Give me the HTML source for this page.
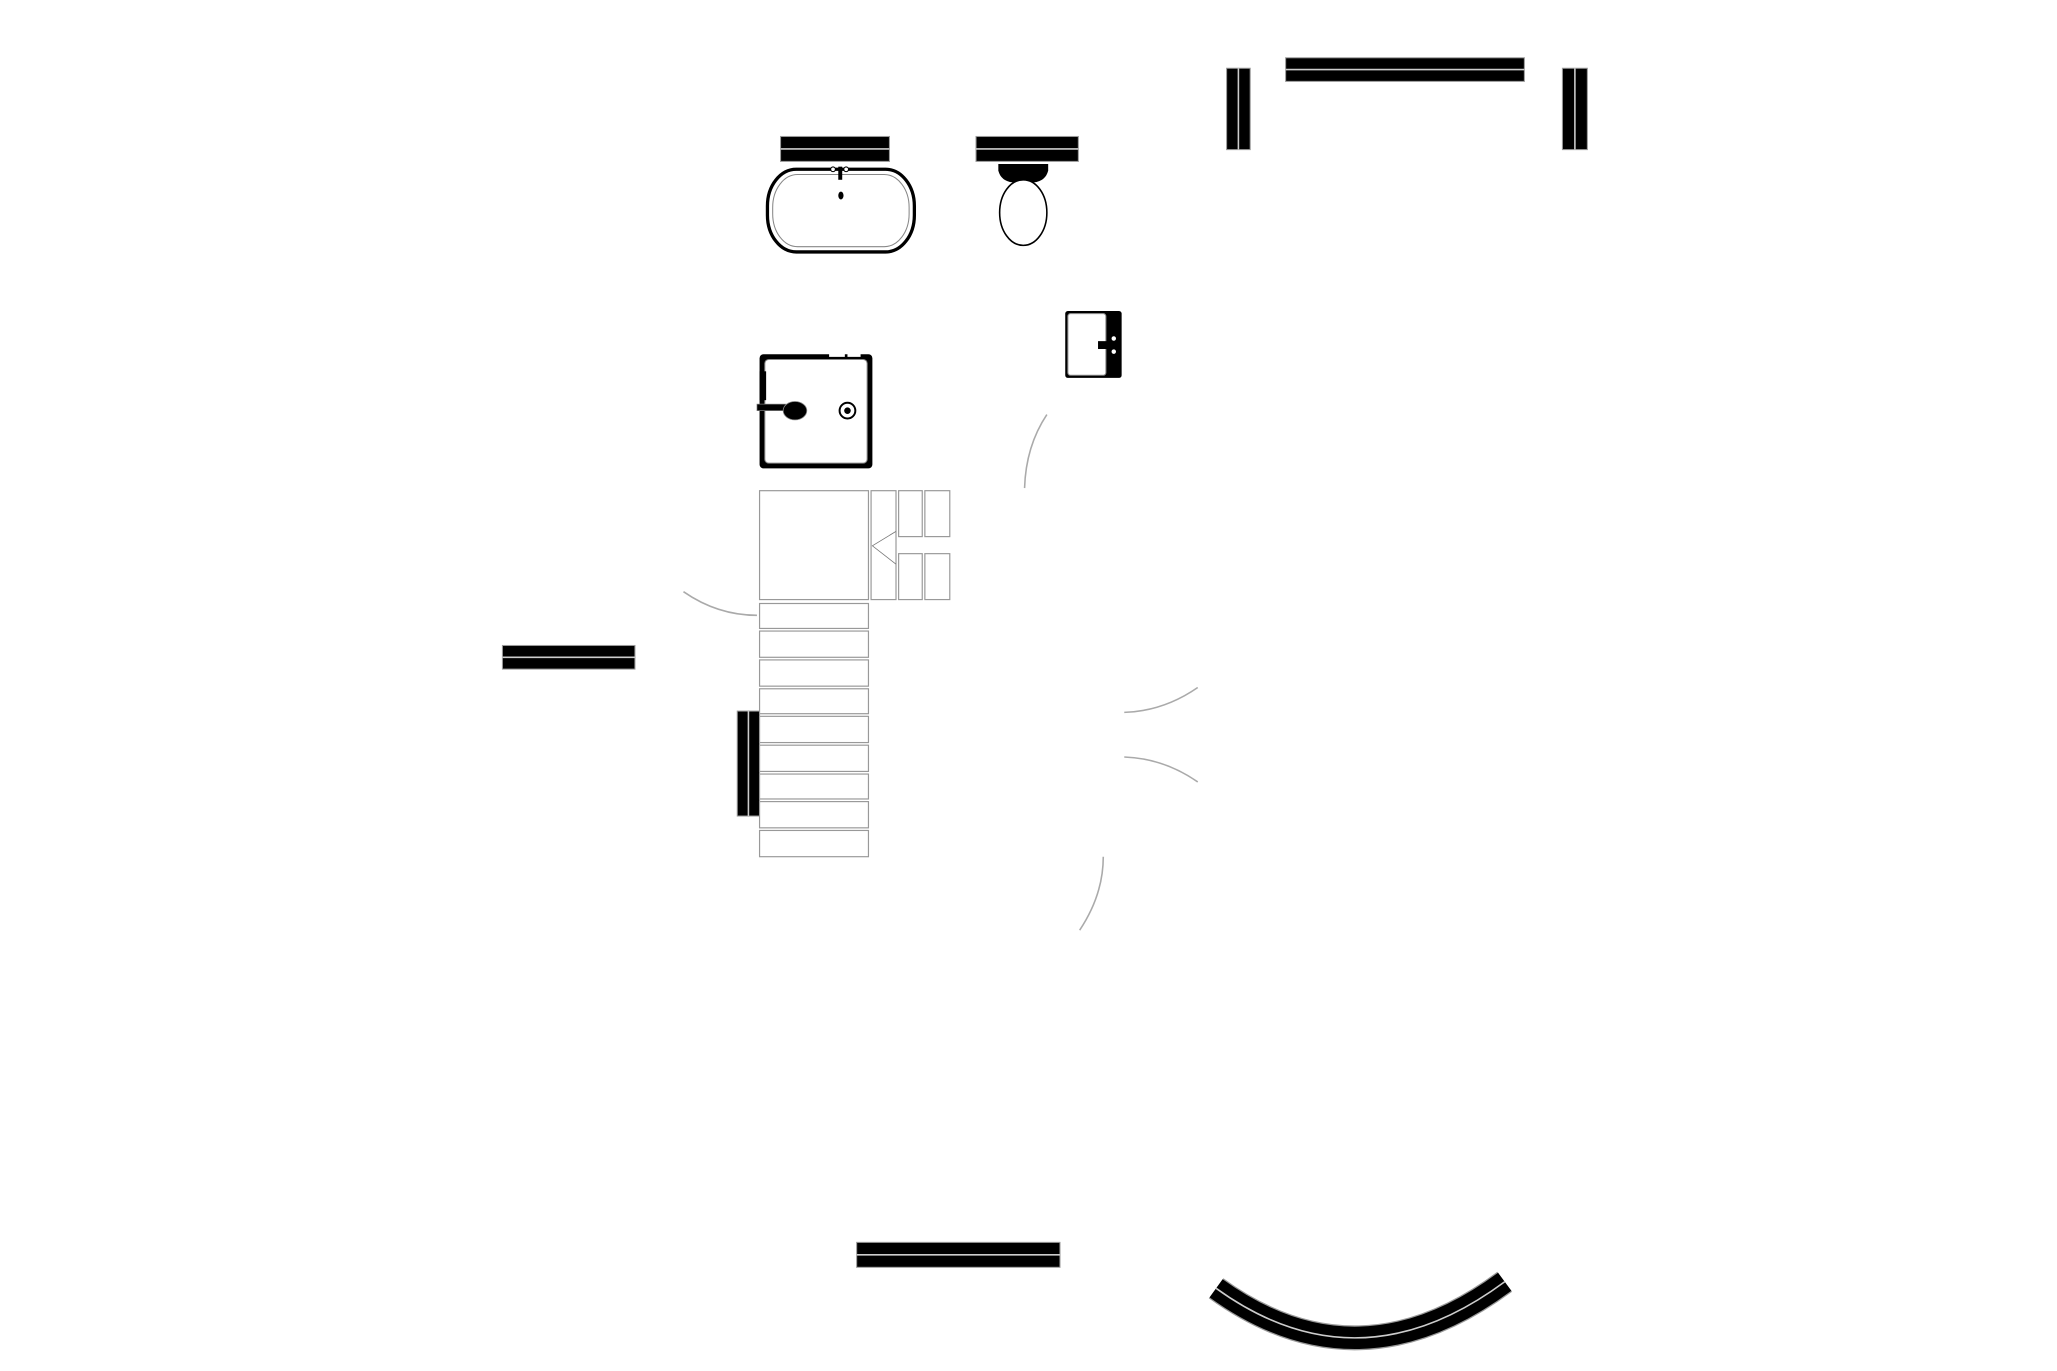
<!DOCTYPE html>
<html><head><meta charset="utf-8"><style>
html,body{margin:0;padding:0;background:#fff;}
svg{display:block;}
</style></head><body>
<svg width="2057" height="1371" viewBox="0 0 1568 1045" xmlns="http://www.w3.org/2000/svg">
<defs>
<g id="x"></g>
</defs>
<!-- walls: black with grey edge and light center line -->
<g stroke="#999" stroke-width="0.8" fill="#000">
<rect x="980" y="44" width="182" height="18"/>
<rect x="935" y="52" width="18" height="62"/>
<rect x="1191" y="52" width="19" height="62"/>
<rect x="595" y="104" width="83" height="19"/>
<rect x="744" y="104" width="78" height="19"/>
<rect x="383" y="492" width="101" height="18"/>
<rect x="562" y="542" width="17" height="80"/>
<rect x="653" y="947" width="155" height="19"/>
</g>
<g stroke="#ccc" stroke-width="1.2">
<line x1="980" y1="53" x2="1162" y2="53"/>
<line x1="944" y1="52" x2="944" y2="114"/>
<line x1="1200.5" y1="52" x2="1200.5" y2="114"/>
<line x1="595" y1="113.5" x2="678" y2="113.5"/>
<line x1="744" y1="113.5" x2="822" y2="113.5"/>
<line x1="383" y1="501" x2="484" y2="501"/>
<line x1="570.5" y1="542" x2="570.5" y2="622"/>
<line x1="653" y1="956.5" x2="808" y2="956.5"/>
</g>
<!-- curved wall -->
<path d="M927,982 Q1035,1060 1147,977" fill="none" stroke="#999" stroke-width="19"/>
<path d="M927,982 Q1035,1060 1147,977" fill="none" stroke="#000" stroke-width="17"/>
<path d="M927,982 Q1035,1060 1147,977" fill="none" stroke="#ccc" stroke-width="1.2"/>
<!-- basin -->
<rect x="585" y="129" width="112" height="63" rx="22" ry="28" fill="#fff" stroke="#000" stroke-width="2.5"/>
<rect x="589" y="133" width="104" height="55" rx="19" ry="25" fill="none" stroke="#888" stroke-width="0.8"/>
<rect x="639" y="127" width="3" height="10" fill="#000"/>
<circle cx="635" cy="129" r="1.8" fill="#fff" stroke="#000" stroke-width="0.8"/>
<circle cx="645" cy="129" r="1.8" fill="#fff" stroke="#000" stroke-width="0.8"/>
<ellipse cx="641" cy="149" rx="2" ry="3" fill="#000"/>
<!-- toilet -->
<path d="M761,125 L799,125 L799,130 Q797,138 788,139 L772,139 Q763,138 761,130 Z" fill="#000"/>
<ellipse cx="780" cy="162" rx="18" ry="25" fill="#fff" stroke="#000" stroke-width="1.2"/>
<!-- small sink -->
<rect x="812" y="237" width="43" height="51" rx="2" fill="#000"/>
<rect x="814" y="239" width="29" height="47" rx="2" fill="#fff" stroke="#888" stroke-width="0.8"/>
<rect x="837" y="260" width="9" height="6" fill="#000"/>
<circle cx="849" cy="258" r="2" fill="#fff" stroke="#000" stroke-width="0.6"/>
<circle cx="849" cy="268" r="2" fill="#fff" stroke="#000" stroke-width="0.6"/>
<!-- shower tray -->
<rect x="579" y="270" width="86" height="87" rx="3" fill="#000"/>
<rect x="583" y="274" width="78" height="79" rx="3" fill="#fff" stroke="#888" stroke-width="0.8"/>
<rect x="632" y="268" width="12" height="4" fill="#fff"/>
<rect x="646" y="268" width="10" height="4" fill="#fff"/>
<rect x="579" y="283" width="5" height="22" fill="#000"/>
<rect x="577" y="308" width="22" height="5" fill="#000" stroke="#888" stroke-width="0.5"/>
<ellipse cx="606" cy="313" rx="9" ry="7" fill="#000" stroke="#888" stroke-width="0.6"/>
<circle cx="646" cy="313" r="6" fill="#fff" stroke="#000" stroke-width="1.5"/>
<circle cx="646" cy="313" r="2.5" fill="#000"/>
<!-- stairs -->
<g fill="#fff" stroke="#999" stroke-width="0.9">
<rect x="579" y="374" width="83" height="83"/>
<rect x="664" y="374" width="19" height="83"/>
<rect x="685" y="374" width="18" height="35"/>
<rect x="705" y="374" width="19" height="35"/>
<rect x="685" y="422" width="18" height="35"/>
<rect x="705" y="422" width="19" height="35"/>
<rect x="579" y="460" width="83" height="19"/>
<rect x="579" y="481" width="83" height="20"/>
<rect x="579" y="503" width="83" height="20"/>
<rect x="579" y="525" width="83" height="19"/>
<rect x="579" y="546" width="83" height="20"/>
<rect x="579" y="568" width="83" height="20"/>
<rect x="579" y="590" width="83" height="19"/>
<rect x="579" y="611" width="83" height="20"/>
<rect x="579" y="633" width="83" height="20"/>
</g>
<polyline points="683,405 665,416 683,430" fill="none" stroke="#777" stroke-width="0.6"/>
<!-- door arcs -->
<g fill="none" stroke="#aaa" stroke-width="1.2">
<path d="M798,316 Q782,340 781,372"/>
<path d="M521,451 Q547,469 577,469"/>
<path d="M857,543 Q887,542 913,524"/>
<path d="M857,577 Q887,578 913,596"/>
<path d="M841,653 Q841,682 823,709"/>
</g>
</svg>
</body></html>
